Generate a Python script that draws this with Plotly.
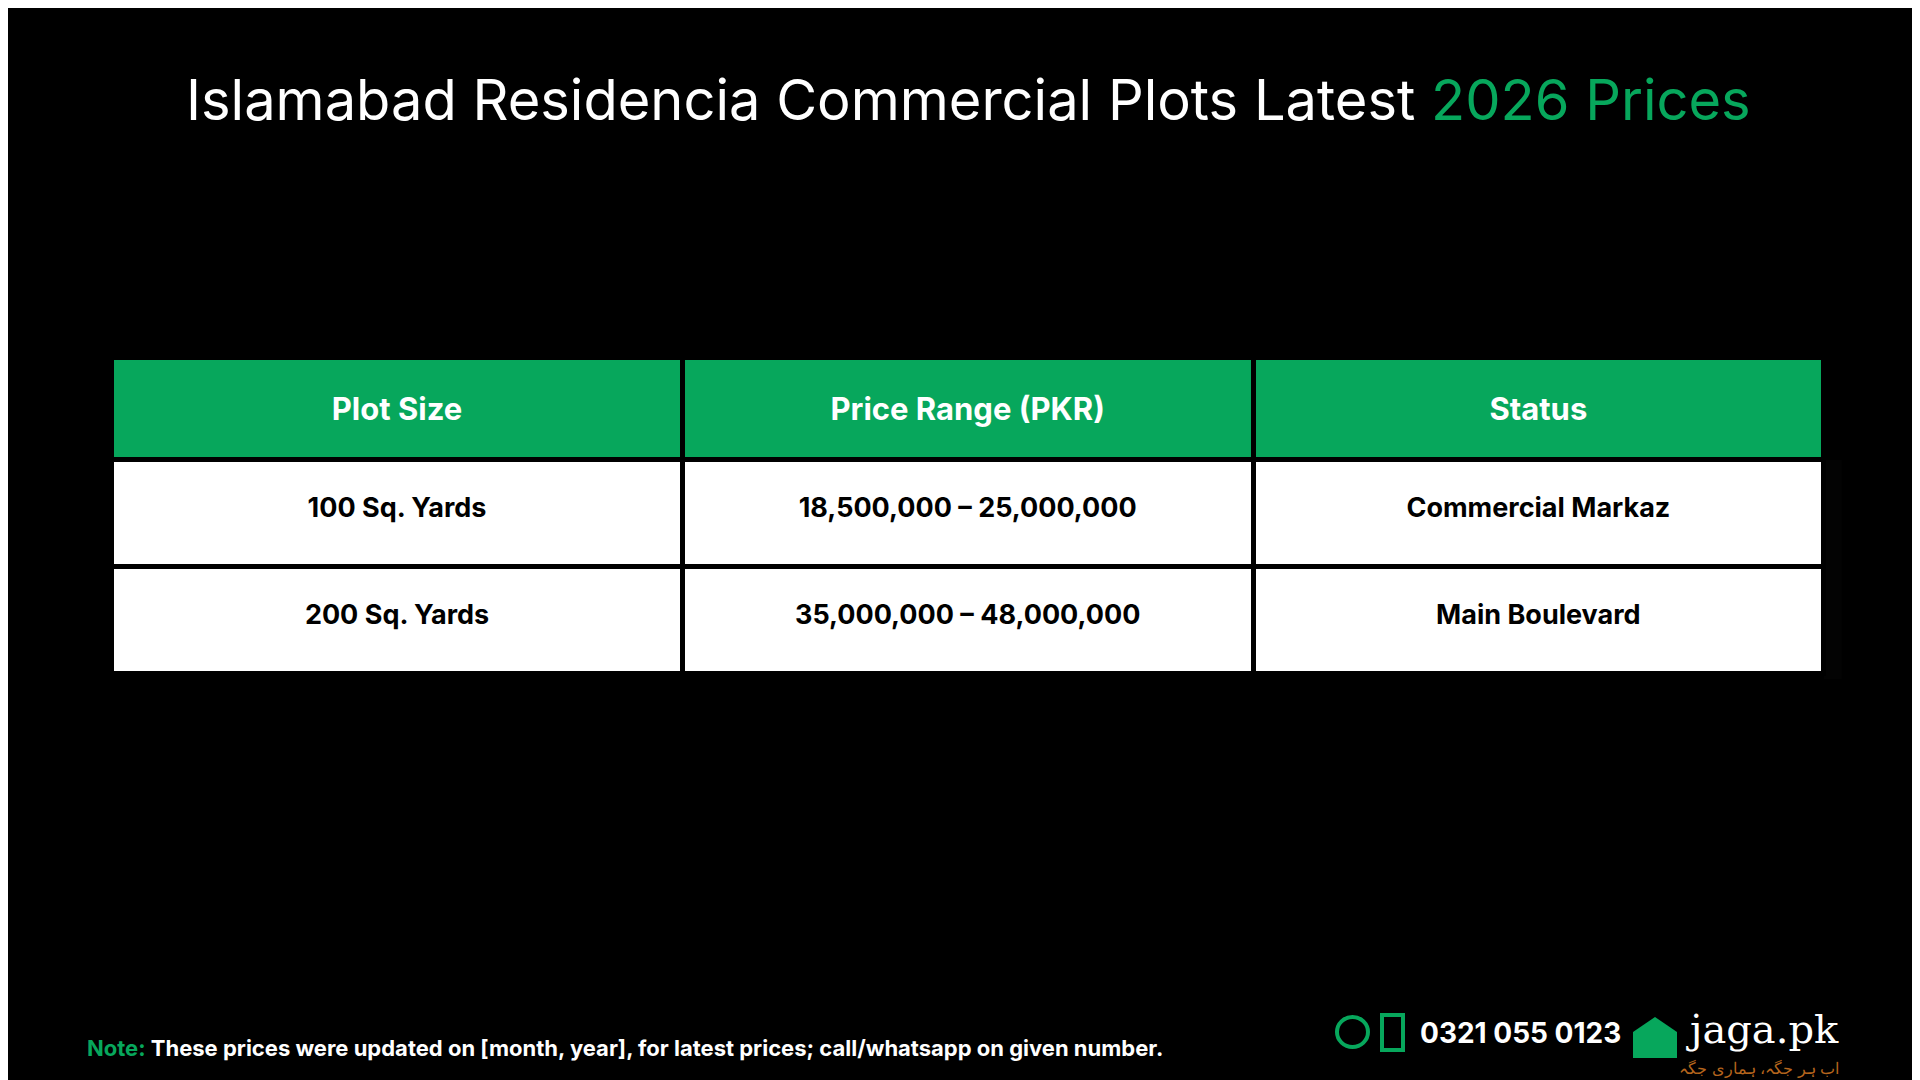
import plotly.graph_objects as go

headers = ["Plot Size", "Price Range (PKR)", "Status"]
plot_sizes = ["100 Sq. Yards", "200 Sq. Yards"]
price_ranges = ["18,500,000 – 25,000,000", "35,000,000 – 48,000,000"]
statuses = ["Commercial Markaz", "Main Boulevard"]

GREEN = "#07a75c"
FONT = "Inter"

# small spacer line pushes text down so it sits near the cell middle
SP = "<span style='font-size:14px'> </span><br>"

fig = go.Figure(go.Table(
    domain=dict(x=[0.054, 0.946], y=[0.378, 0.676]),
    columnwidth=[1, 1, 1],
    header=dict(
        values=[SP + "<b>%s</b>" % h for h in headers],
        fill_color=GREEN, line=dict(color="black", width=5),
        align="center", height=102,
        font=dict(family=FONT, size=31, color="white"),
    ),
    cells=dict(
        values=[[SP + "<b>%s</b>" % v for v in plot_sizes],
                [SP + "<b>%s</b>" % v for v in price_ranges],
                [SP + "<b>%s</b>" % v for v in statuses]],
        fill_color="white", line=dict(color="black", width=5),
        align="center", height=107,
        font=dict(family=FONT, size=27, color="black"),
    ),
))

def note(x, y, text, size, color="white", family=FONT, xanchor="center"):
    fig.add_annotation(x=x / 1920, y=1 - y / 1080, xref="paper", yref="paper",
                       showarrow=False, xanchor=xanchor, yanchor="middle",
                       text=text, font=dict(family=family, size=size, color=color))

note(960, 92, "Islamabad Residencia Commercial Plots Latest <span style='color:%s'>2026 Prices</span>" % GREEN, 56)
note(77, 1040, "<b><span style='color:%s'>Note:</span> These prices were updated on [month, year], for latest prices; call/whatsapp on given number.</b>" % GREEN,
     22, xanchor="left")
note(1410, 1025, "<b>0321 055 0123</b>", 28, xanchor="left")
note(1676, 1021, "jaga.pk", 40, family="DejaVu Serif", xanchor="left")
note(1833, 1060, "اب ہر جگہ، ہماری جگہ", 16, color="#b5651d", xanchor="right")

# icons
def px(x, y):
    return x / 1920, 1 - y / 1080

x0, y0 = px(1329, 1009); x1, y1 = px(1360, 1039)
fig.add_shape(type="circle", xref="paper", yref="paper", x0=x0, y0=y0, x1=x1, y1=y1,
              line=dict(color=GREEN, width=4))
x0, y0 = px(1374, 1007); x1, y1 = px(1395, 1042)
fig.add_shape(type="rect", xref="paper", yref="paper", x0=x0, y0=y0, x1=x1, y1=y1,
              line=dict(color=GREEN, width=4), fillcolor="black")
pts = [px(*p) for p in [(1625, 1050), (1625, 1024), (1647, 1009), (1669, 1024), (1669, 1050)]]
path = "M " + " L ".join("%f,%f" % p for p in pts) + " Z"
fig.add_shape(type="path", xref="paper", yref="paper", path=path,
              fillcolor=GREEN, line=dict(width=0))

fig.update_layout(
    width=1920, height=1080, paper_bgcolor="black", plot_bgcolor="black",
    margin=dict(l=0, r=0, t=0, b=0),
)
fig.write_html("out.html")
